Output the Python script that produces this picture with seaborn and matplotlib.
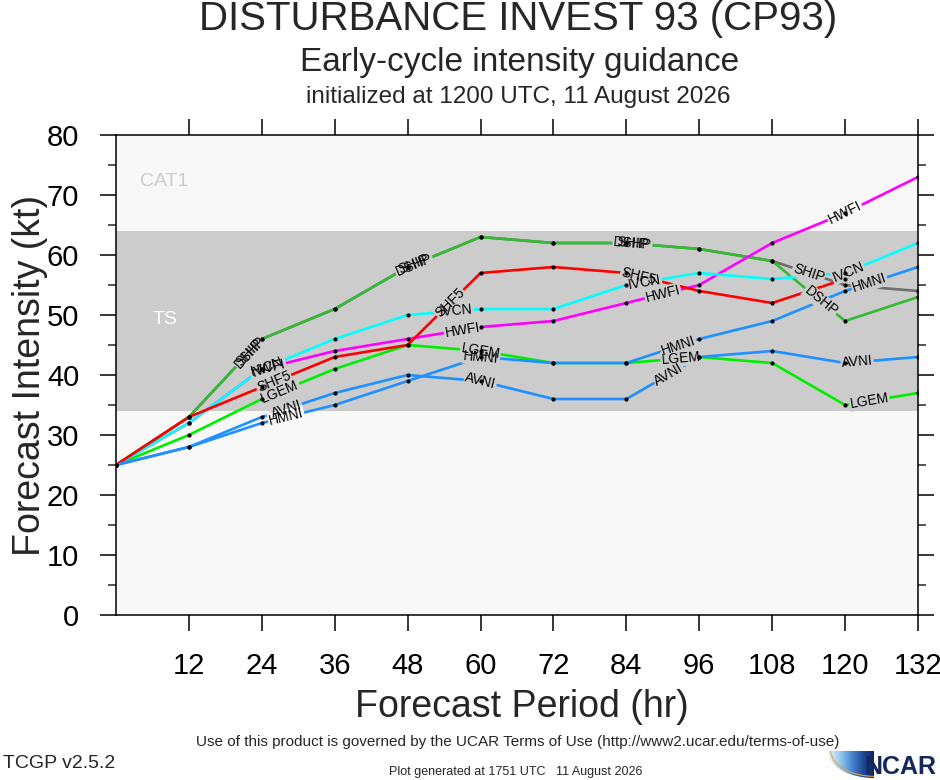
import numpy as np
import pandas as pd
import matplotlib
matplotlib.use('Agg')
import matplotlib.pyplot as plt
from matplotlib.patches import Polygon
from matplotlib.colors import LinearSegmentedColormap
import seaborn as sns

# forecast hours and intensities (kt) per model
hours = [0, 12, 24, 36, 48, 60, 72, 84, 96, 108, 120, 132]
ship = [25, 33, 46, 51, 58, 63, 62, 62, 61, 59, 55, 54]
dshp = [25, 33, 46, 51, 58, 63, 62, 62, 61, 59, 49, 53]
lgem = [25, 30, 36, 41, 45, 44, 42, 42, 43, 42, 35, 37]
hwfi = [25, 32, 41, 44, 46, 48, 49, 52, 55, 62, 67, 73]
ivcn = [25, 32, 41, 46, 50, 51, 51, 55, 57, 56, 57, 62]
shf5 = [25, 33, 38, 43, 45, 57, 58, 57, 54, 52, 56, np.nan]
avni = [25, 28, 33, 37, 40, 39, 36, 36, 43, 44, 42, 43]
hmni = [25, 28, 32, 35, 39, 43, 42, 42, 46, 49, 54, 58]

models = ['SHIP', 'DSHP', 'LGEM', 'HWFI', 'IVCN', 'SHF5', 'AVNI', 'HMNI']
series = [ship, dshp, lgem, hwfi, ivcn, shf5, avni, hmni]
colors = ['#6e6e6e', '#33bb33', '#00ee00', '#ff00ff', '#00ffff', '#ff0000',
          '#1e90ff', '#1e90ff']

ts_band = (34, 64)

df = pd.DataFrame({
    'hour': np.tile(hours, len(models)),
    'vmax': np.concatenate(series),
    'model': np.repeat(models, len(hours)),
}).dropna()

sns.set_theme(style='ticks')
plt.rcParams['font.family'] = ['Liberation Sans', 'DejaVu Sans']

fig = plt.figure(figsize=(9.4, 7.8), dpi=100)
ax = fig.add_axes([116 / 940, 1 - 615 / 780, 802 / 940, 480 / 780])
ax.set_facecolor('#f8f8f8')
ax.axhspan(ts_band[0], ts_band[1], color='#cccccc', lw=0, zorder=0)

sns.lineplot(data=df, x='hour', y='vmax', hue='model', hue_order=models,
             palette=dict(zip(models, colors)), linewidth=1.9, legend=False,
             ax=ax, zorder=2)
sns.scatterplot(data=df, x='hour', y='vmax', color='black', s=9,
                linewidth=0, legend=False, ax=ax, zorder=4)

ax.set_xlim(0, 132)
ax.set_ylim(0, 80)
ax.set_xticks(range(12, 133, 12))
ax.set_yticks(range(0, 81, 10))
ax.set_yticks(range(5, 80, 10), minor=True)
ax.tick_params(axis='both', which='major', direction='out', length=11.5,
               width=1.1, labelsize=21, pad=15, colors='black')
ax.tick_params(axis='y', which='minor', direction='out', length=5.8,
               width=1.1)
ax.tick_params(top=True, right=True, which='both')
ax.tick_params(axis='y', which='minor', right=True, left=True)
ax.set_xlabel('')
ax.set_ylabel('')
for sp in ax.spines.values():
    sp.set_visible(True)
    sp.set_linewidth(1.1)
    sp.set_color('black')

ax.text(4, 72.3, 'CAT1', color='#cccccc', fontsize=14, va='center')
ax.text(6, 49.2, 'TS', color='white', fontsize=14, va='center')

# inline model labels along each line
label_hours = {
    'SHIP': [22, 49, 85, 114], 'DSHP': [22, 49, 85, 116],
    'LGEM': [27, 60, 93, 124], 'HWFI': [25, 57, 90, 120],
    'IVCN': [25, 56, 87, 120.5], 'SHF5': [26, 55, 86],
    'AVNI': [28, 60, 91, 122], 'HMNI': [28, 60, 92.6, 124],
}
fig.canvas.draw()
labels = []
for name, vals in zip(models, series):
    v = np.array(vals, dtype=float)
    for h in label_hours[name]:
        y = np.interp(h, hours, v)
        i = min(int(h // 12), len(hours) - 2)
        p0 = ax.transData.transform((hours[i], v[i]))
        p1 = ax.transData.transform((hours[i + 1], v[i + 1]))
        ang = np.degrees(np.arctan2(p1[1] - p0[1], p1[0] - p0[0]))
        labels.append((name, h, y, ang))

for name, h, y, ang in labels:
    bg = '#cccccc' if ts_band[0] <= y <= ts_band[1] else '#f8f8f8'
    ax.text(h, y, name, fontsize=10, color='none', rotation=ang,
            rotation_mode='anchor', ha='center', va='center', zorder=3,
            bbox=dict(facecolor=bg, edgecolor='none', pad=0.6))
for name, h, y, ang in labels:
    ax.text(h, y, name, fontsize=10, color='black', rotation=ang,
            rotation_mode='anchor', ha='center', va='center', zorder=5)

# titles and annotations
fig.text(0.551, 1 - 19 / 780, 'DISTURBANCE INVEST 93 (CP93)', fontsize=29,
         ha='center', va='center')
fig.text(0.553, 1 - 62 / 780, 'Early-cycle intensity guidance', fontsize=24,
         ha='center', va='center')
fig.text(0.551, 1 - 97 / 780, 'initialized at 1200 UTC, 11 August 2026',
         fontsize=17.5, ha='center', va='center')
fig.text(522 / 940, 1 - 707 / 780, 'Forecast Period (hr)', fontsize=27,
         ha='center', va='center')
fig.text(30 / 940, 1 - 375 / 780, 'Forecast Intensity (kt)', fontsize=27,
         ha='center', va='center', rotation=90)
fig.text(518 / 940, 1 - 742 / 780,
         'Use of this product is governed by the UCAR Terms of Use '
         '(http://www2.ucar.edu/terms-of-use)', fontsize=11,
         ha='center', va='center')
fig.text(3 / 940, 1 - 763 / 780, 'TCGP v2.5.2', fontsize=14, ha='left',
         va='center')
fig.text(516 / 940, 1 - 772 / 780,
         'Plot generated at 1751 UTC   11 August 2026', fontsize=9,
         ha='center', va='center')

# NCAR logo: gradient swoosh + wordmark
lax = fig.add_axes([828 / 940, 1 - 778 / 780, 46 / 940, 27 / 780])
lax.set_axis_off()
grad = np.linspace(0, 1, 200)[None, :] * np.ones((20, 1))
cmap = LinearSegmentedColormap.from_list(
    'ncar', ['#eaf3fb', '#9ccbef', '#4a8ad3', '#1d4a96', '#0c2160'])
im = lax.imshow(grad, cmap=cmap, extent=(0, 1, 0, 1), aspect='auto')
t = np.linspace(0, np.pi / 2, 40)
arc_x = 1 - np.cos(t)
arc_y = 1 - np.sin(t)
clip = Polygon(np.column_stack([np.r_[arc_x, 1, 0], np.r_[arc_y, 1, 1]]),
               closed=True, transform=lax.transData, facecolor='none',
               edgecolor='none')
lax.add_patch(clip)
im.set_clip_path(clip)
lax.plot(arc_x * 0.96 + 0.06, arc_y * 0.96 + 0.06, color='#f0a040', lw=0.8)
lax.set_xlim(0, 1)
lax.set_ylim(0, 1)
fig.text(936 / 940, 1 - 767 / 780, 'NCAR', fontsize=18, fontweight='bold',
         color='#14285e', ha='right', va='center')

fig.savefig('out.png', dpi=100)
